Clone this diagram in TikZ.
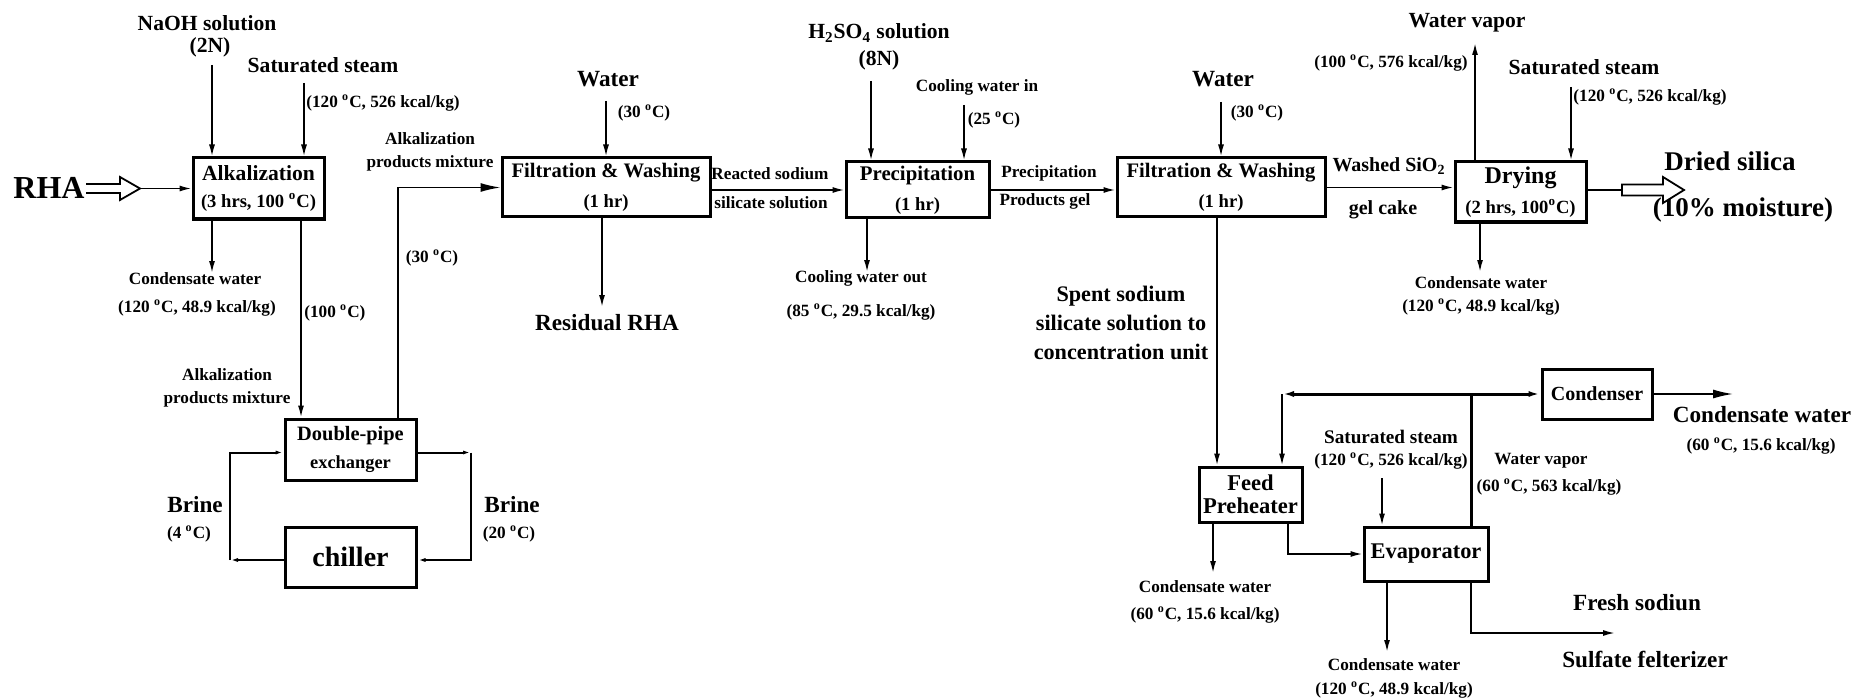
\documentclass[tikz,border=0pt]{standalone}
\usepackage{fontspec}
\setmainfont{Liberation Serif}
\usetikzlibrary{arrows.meta}
\newcommand\dg{\textsuperscript{o}}
\newcommand\fa{\fontsize{8.6}{10}\selectfont}
\newcommand\fb{\fontsize{10.8}{12}\selectfont}
\newcommand\fc{\fontsize{11.6}{13}\selectfont}
\newcommand\fd{\fontsize{9.3}{11}\selectfont}
\begin{document}
\begin{tikzpicture}[x=0.5pt,y=-0.5pt,
  every node/.style={font=\bfseries},
  box/.style={draw, line width=1.5pt, inner sep=0pt, align=center},
  lab/.style={inner sep=0pt, align=center},
  sm/.style={font=\bfseries\fa},
  ln/.style={line width=0.8pt},
  lnk/.style={line width=1.5pt},
  arr/.style={ln, -{Latex[length=6pt,width=3pt]}},
  barr/.style={ln, -{Latex[length=10pt,width=4.5pt]}},
  sarr/.style={line width=1pt, -{Latex[length=4pt,width=2pt,open]}},
  blk/.style={line width=0.9pt, fill=white}]
\useasboundingbox[fill=white] (0,0) rectangle (1855,700);

% ---------- boxes ----------
\node[box, minimum width=65.5pt, minimum height=30.5pt] (alk) at (258.5,188.5) {\fb Alkalization\\[1.5pt]\fd (3 hrs, 100 \dg C)};
\node[box, minimum width=65.5pt, minimum height=30.5pt] (dp) at (350.5,449.5) {\fontsize{10.2}{11}\selectfont Double-pipe\\[2pt]\fontsize{9.2}{11}\selectfont exchanger};
\node[box, minimum width=65.5pt, minimum height=30pt] (chil) at (350.5,557) {\fontsize{14}{16}\selectfont chiller};
\node[box, minimum width=104pt, minimum height=29.5pt] (fw1) at (606,187.5) {\fontsize{10.3}{12}\selectfont Filtration \& Washing\\[3pt]\fd (1 hr)};
\node[box, minimum width=71.5pt, minimum height=28pt] (prec) at (917.5,190) {\fontsize{10.4}{12}\selectfont Precipitation\\[3pt]\fd (1 hr)};
\node[box, minimum width=104pt, minimum height=29.5pt] (fw2) at (1221,187.5) {\fontsize{10.3}{12}\selectfont Filtration \& Washing\\[3pt]\fd (1 hr)};
\node[box, minimum width=65.5pt, minimum height=30pt] (dry) at (1520.5,192) {\fontsize{12}{13}\selectfont Drying\\[3pt]\fd (2 hrs, 100\dg C)};
\node[box, minimum width=51.5pt, minimum height=27.5pt, font=\bfseries\fontsize{11.3}{11.5}\selectfont] (fph) at (1250.5,494.5) {Feed\\Preheater};
\node[box, minimum width=55pt, minimum height=25pt] (cond) at (1597,394) {\fontsize{10}{12}\selectfont Condenser};
\node[box, minimum width=62pt, minimum height=27pt] (evap) at (1426,554) {\fontsize{11.2}{12}\selectfont Evaporator};

% ---------- labels ----------
\node[lab] (trha) at (49,188) {\fontsize{16}{18}\selectfont RHA};
\node[lab] (tnaoh) at (207,23) {\fb NaOH solution};
\node[lab] (t2n) at (210,47) {\fb (2N)};
\node[lab] (tst1) at (323,65) {\fb Saturated steam};
\node[lab, anchor=west] (tst1b) at (306,103) {\fa (120 \dg C, 526 kcal/kg)};
\node[lab] (tcw1) at (195,279) {\fa Condensate water};
\node[lab] (tcw1b) at (197,308) {\fa (120 \dg C, 48.9 kcal/kg)};
\node[lab, anchor=west] (t100) at (304,313) {\fa (100 \dg C)};
\node[lab, sm] (tapm1) at (227,388) {Alkalization\\[1.5pt]products mixture};
\node[lab, sm] (tapm2) at (430,152) {Alkalization\\[1.5pt]products mixture};
\node[lab] (t30a) at (432,258) {\fa (30 \dg C)};
\node[lab] (tbr1) at (195,505) {\fc Brine};
\node[lab] (tbr1b) at (189,534) {\fa (4 \dg C)};
\node[lab] (tbr2) at (512,505) {\fc Brine};
\node[lab] (tbr2b) at (509,534) {\fa (20 \dg C)};
\node[lab] (tw1) at (608,79) {\fc Water};
\node[lab] (tw1b) at (644,113) {\fa (30 \dg C)};
\node[lab] (trr) at (607,323) {\fc Residual RHA};
\node[lab] (trs1) at (770,174) {\fa Reacted sodium};
\node[lab] (trs2) at (771,203) {\fa silicate solution};
\node[lab] (th2) at (879,33) {\fb H\textsubscript{2}SO\textsubscript{4} solution};
\node[lab] (t8n) at (879,60) {\fb (8N)};
\node[lab] (tcwi) at (977,87) {\fa Cooling water in};
\node[lab] (t25) at (994,120) {\fa (25 \dg C)};
\node[lab] (tcwo) at (861,278) {\fa Cooling water out};
\node[lab] (tcwob) at (861,312) {\fa (85 \dg C, 29.5 kcal/kg)};
\node[lab] (tpg1) at (1049,173) {\fa Precipitation};
\node[lab] (tpg2) at (1045,201) {\fa Products gel};
\node[lab] (tw2) at (1223,79) {\fc Water};
\node[lab] (tw2b) at (1257,113) {\fa (30 \dg C)};
\node[lab] (tws1) at (1389,166) {\fontsize{10}{12}\selectfont Washed SiO\textsubscript{2}};
\node[lab] (tws2) at (1383,210) {\fontsize{10}{12}\selectfont gel cake};
\node[lab] (twv) at (1467,23) {\fb Water vapor};
\node[lab] (twvb) at (1391,63) {\fa (100 \dg C, 576 kcal/kg)};
\node[lab] (tst2) at (1584,67) {\fb Saturated steam};
\node[lab, anchor=west] (tst2b) at (1573,97) {\fa (120 \dg C, 526 kcal/kg)};
\node[lab] (tcw2) at (1481,283) {\fa Condensate water};
\node[lab] (tcw2b) at (1481,307) {\fa (120 \dg C, 48.9 kcal/kg)};
\node[lab] (tds1) at (1730,161) {\fontsize{13.5}{15}\selectfont Dried silica};
\node[lab] (tds2) at (1743,210) {\fontsize{13.5}{15}\selectfont (10\% moisture)};
\node[lab, font=\bfseries\fontsize{11.1}{14.5}\selectfont] (tsp) at (1121,323) {Spent sodium\\silicate solution to\\concentration unit};
\node[lab] (tcw3) at (1762,415) {\fc Condensate water};
\node[lab] (tcw3b) at (1761,446) {\fa (60 \dg C, 15.6 kcal/kg)};
\node[lab] (tst3) at (1391,437) {\fontsize{9.6}{11}\selectfont Saturated steam};
\node[lab] (tst3b) at (1391,461) {\fa (120 \dg C, 526 kcal/kg)};
\node[lab] (twv2) at (1541,461) {\fa Water vapor};
\node[lab] (twv2b) at (1549,487) {\fa (60 \dg C, 563 kcal/kg)};
\node[lab] (tcw4) at (1205,587) {\fa Condensate water};
\node[lab] (tcw4b) at (1205,615) {\fa (60 \dg C, 15.6 kcal/kg)};
\node[lab] (tcw5) at (1394,665) {\fa Condensate water};
\node[lab] (tcw5b) at (1394,690) {\fa (120 \dg C, 48.9 kcal/kg)};
\node[lab] (tfs1) at (1637,603) {\fc Fresh sodiun};
\node[lab] (tfs2) at (1645,659) {\fc Sulfate felterizer};

% ---------- connectors ----------
% RHA feed
\draw[blk] (86,184) -- (120,184) -- (120,177) -- (140,188.5) -- (120,200) -- (120,193) -- (86,193);
\coordinate (rhat) at (140,188.5);
\draw[arr] (rhat) -- (alk.west);
\coordinate (naoh0) at (212,65);
\draw[arr] (naoh0) -- (naoh0 |- alk.north);
\coordinate (st10) at (304,83);
\draw[arr] (st10) -- (st10 |- alk.north);
\coordinate (cw1) at (212,273);
\draw[arr] (cw1 |- alk.south) -- (cw1);
\coordinate (a2d) at (301,300);
\draw[arr] (a2d |- alk.south) -- (a2d |- dp.north);
\coordinate (d2f) at (398,300);
\draw[barr] (d2f |- dp.north) |- (fw1.west);
% brine loop
\coordinate (lpL) at (230,0);
\coordinate (lpR) at (471,0);
\draw[sarr] ([yshift=-1.5pt]chil.west) -- ([yshift=-1.5pt]chil.west -| lpL);
\draw[sarr] ([yshift=-1.5pt]chil.west -| lpL) |- ([yshift=-1.5pt]dp.west);
\draw[sarr] ([yshift=-1.5pt]dp.east) -- ([yshift=-1.5pt]dp.east -| lpR);
\draw[sarr] ([yshift=-1.5pt]dp.east -| lpR) |- ([yshift=-1.5pt]chil.east);
% filtration 1
\coordinate (w1) at (606,101);
\draw[arr] (w1) -- (w1 |- fw1.north);
\coordinate (rr) at (602,307);
\draw[arr] (rr |- fw1.south) -- (rr);
\draw[arr] (prec.west -| fw1.east) -- (prec.west);
% precipitation
\coordinate (h2) at (871,81);
\draw[arr] (h2) -- (h2 |- prec.north);
\coordinate (cwi) at (964,105);
\draw[arr] (cwi) -- (cwi |- prec.north);
\coordinate (cwo) at (867,272);
\draw[arr] (cwo |- prec.south) -- (cwo);
\draw[arr] (prec.east) -- (prec.east -| fw2.west);
% filtration 2
\coordinate (w2) at (1221,102);
\draw[arr] (w2) -- (w2 |- fw2.north);
\draw[arr] (fw2.east) -- (fw2.east -| dry.west);
% drying
\coordinate (wv) at (1475,43);
\draw[arr] (wv |- dry.north) -- (wv);
\coordinate (st2) at (1571,87);
\draw[arr] (st2) -- (st2 |- dry.north);
\coordinate (cw2) at (1480,272);
\draw[arr] (cw2 |- dry.south) -- (cw2);
\coordinate (dsa) at (1622,190);
\draw[ln] (dry.east |- dsa) -- (dsa);
\draw[blk] (1622,184.5) -- (1663,184.5) -- (1663,177) -- (1684,190) -- (1663,203) -- (1663,195.5) -- (1622,195.5) -- cycle;
% concentration unit
\coordinate (sp) at (1217,300);
\draw[arr] (sp |- fw2.south) -- (sp |- fph.north);
\coordinate (riser) at (1471,394);
\coordinate (topL) at (1282,394);
\draw[lnk] (riser |- evap.north) -- (riser);
\draw[lnk, -{Latex[length=6pt,width=3pt]}] (riser) -- (topL);
\draw[arr] (topL) -- (topL |- fph.north);
\draw[lnk, -{Latex[length=6pt,width=3pt]}] (riser) -- (cond.west);
\coordinate (co) at (1733,394);
\draw[barr] (cond.east) -- (co);
\coordinate (st3) at (1382,478);
\draw[arr] (st3) -- (st3 |- evap.north);
\coordinate (fe) at (1288,0);
\draw[arr] (fe |- fph.south) |- (evap.west);
\coordinate (cw3) at (1213,573);
\draw[arr] (cw3 |- fph.south) -- (cw3);
\coordinate (cw4) at (1387,652);
\draw[arr] (cw4 |- evap.south) -- (cw4);
\coordinate (fsx) at (1471,633);
\coordinate (fs) at (1615,633);
\draw[arr] (fsx |- evap.south) -- (fsx) -- (fs);
\end{tikzpicture}
\end{document}
